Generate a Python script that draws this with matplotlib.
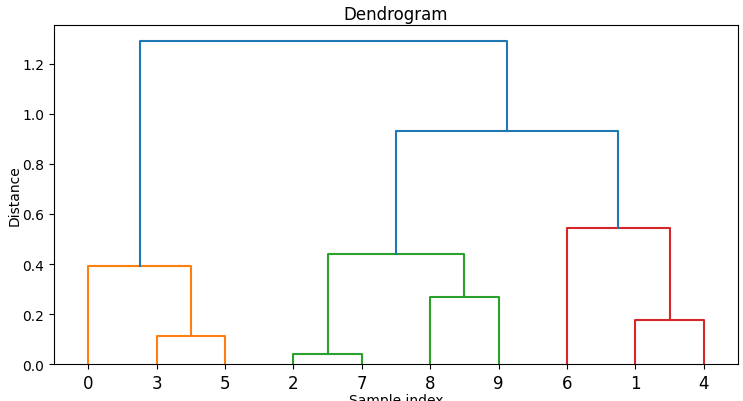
import numpy as np
import matplotlib
matplotlib.use("Agg")
import matplotlib.pyplot as plt

# linkage: merge i creates cluster id 10+i
left = [3, 0, 2, 8, 12, 1, 6, 14, 11]
right = [5, 10, 7, 9, 13, 4, 15, 16, 17]
heights = [0.114, 0.393, 0.041, 0.268, 0.441, 0.175, 0.546, 0.932, 1.291]
n = 10

threshold = 0.7 * max(heights)
palette = ['C1', 'C2', 'C3']
above = 'C0'

# leaf order (left first)
def leaves(c):
    if c < n:
        return [c]
    i = c - n
    return leaves(left[i]) + leaves(right[i])

root = n + len(heights) - 1
order = leaves(root)
pos = {leaf: 5 + 10 * k for k, leaf in enumerate(order)}

# colours per merge
colors = {}
count = [0]
def paint(c, col):
    if c < n:
        return
    i = c - n
    if col is None and heights[i] < threshold:
        col = palette[count[0] % len(palette)]
        count[0] += 1
    colors[i] = col if col is not None else above
    paint(left[i], col)
    paint(right[i], col)
paint(root, None)

def xy(c):
    if c < n:
        return pos[c], 0.0
    i = c - n
    xl, _ = xy(left[i])
    xr, _ = xy(right[i])
    return (xl + xr) / 2, heights[i]

fig = plt.figure(figsize=(7.43, 4.02), dpi=100)
ax = fig.add_axes([54 / 743, 1 - 365.3 / 402, 684 / 743, 339.6 / 402])

for i in range(len(heights)):
    xl, yl = xy(left[i])
    xr, yr = xy(right[i])
    h = heights[i]
    ax.plot([xl, xl, xr, xr], [yl, h, h, yr], color=colors[i], lw=1.5)

ax.set_xlim(0, 10 * n)
ax.set_ylim(0, max(heights) * 1.05)
ax.set_xticks([pos[l] for l in order])
ax.set_xticklabels([str(l) for l in order], fontsize=12)
ax.set_title("Dendrogram", pad=4)
ax.set_xlabel("Sample index", labelpad=1)
ax.set_ylabel("Distance", labelpad=0.5)

fig.savefig("out.png", dpi=100)
